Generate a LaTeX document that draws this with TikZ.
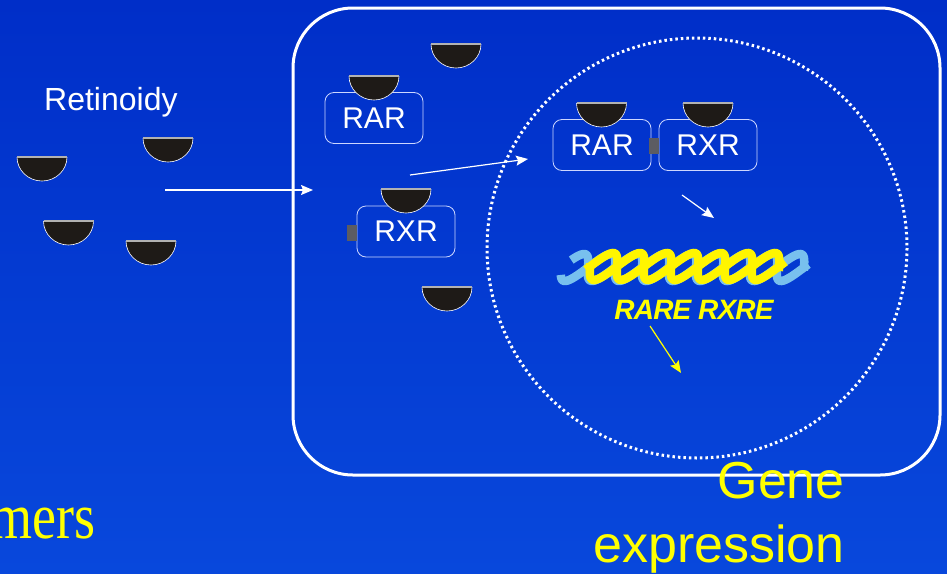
\documentclass[tikz,border=0pt]{standalone}
\usepackage{fontspec}
\setmainfont{Liberation Sans}
\newfontfamily\timesfont{Liberation Serif}
\usetikzlibrary{arrows.meta}
\definecolor{bgtop}{RGB}{0,46,200}
\definecolor{bgbot}{RGB}{8,72,220}
\definecolor{ligandfill}{RGB}{30,26,23}
\definecolor{tabgrey}{RGB}{92,92,98}
\definecolor{helixblue}{RGB}{120,192,238}
\definecolor{helixyellow}{RGB}{255,245,0}
\definecolor{labelyellow}{RGB}{255,255,0}
\definecolor{boxline}{RGB}{205,215,255}

\begin{document}
\begin{tikzpicture}[x=1pt,y=-1pt,
  declare function={hs(\u)=sin(20*(\u-590)/3);},
  receptor/.style={draw=boxline, line width=0.8pt, rounded corners=9pt,
    minimum width=98pt, minimum height=51pt, inner sep=0pt, text=white,
    font=\fontsize{30}{30}\selectfont},
  tabbox/.style={fill=tabgrey, minimum width=10pt, minimum height=16pt, inner sep=0pt},
  flow/.style={draw=white, line width=1.2pt, -{Stealth[length=12pt,width=10pt,inset=2pt]}},
  yflow/.style={draw=labelyellow, line width=1.2pt, -{Stealth[length=12pt,width=10pt,inset=2pt]}},
  strand/.style={line width=8.5pt},
  ligand/.pic={
    \fill[ligandfill] (-25,0) arc[start angle=180,end angle=0,x radius=25,y radius=24] -- cycle;
    \draw[white, line width=0.6pt] (-25,0) arc[start angle=180,end angle=0,x radius=25,y radius=24];
    \draw[gray!60, line width=1.4pt] (-25,0) -- (25,0);
  }
]
% background
\begin{scope}[y=1pt]
  \shade[top color=bgtop, bottom color=bgbot] (0,-573) rectangle (947,0);
\end{scope}
\useasboundingbox (0,0) rectangle (947,573);

% cell membrane and nucleus
\node[draw=white, line width=3pt, rounded corners=60pt, minimum width=647pt,
  minimum height=467pt, inner sep=0pt] (cell) at (616.5,241.5) {};
\draw[white, line width=3pt, dash pattern=on 2.5pt off 3pt] (697,248) circle[radius=210];

% receptors
\node[receptor] (rarL) at (374,118) {RAR};
\node[receptor] (rxrL) at (406,231.5) {RXR};
\node[receptor] (rarN) at (602,145) {RAR};
\node[receptor] (rxrN) at (708,145) {RXR};
\node[tabbox] (tabL) at (352,232.5) {};
\node[tabbox] (tabN) at (654,146) {};

% free ligands
\pic at (42,157) {ligand};
\pic at (168,138) {ligand};
\pic at (68.5,221) {ligand};
\pic at (151,241) {ligand};
\pic at (456,44) {ligand};
\pic at (447,287) {ligand};
% bound ligands
\pic at (374,76) {ligand};
\pic at (406,189) {ligand};
\pic at (601.5,103) {ligand};
\pic at (708,103) {ligand};

% DNA double helix
\draw[helixblue, strand] plot[domain=568:808, samples=160, smooth]
  ({\x+9.5*hs(\x)-2},{266.5-13.5*hs(\x)+1});
\draw[helixblue, strand] plot[domain=568:808, samples=160, smooth]
  ({\x-9.5*hs(\x)-2},{266.5+13.5*hs(\x)+1});
\draw[helixyellow, strand] plot[domain=588:782, samples=140, smooth]
  ({\x+9.5*hs(\x)},{266.5-13.5*hs(\x)});
\draw[helixyellow, strand] plot[domain=588:782, samples=140, smooth]
  ({\x-9.5*hs(\x)},{266.5+13.5*hs(\x)});

% labels
\node[anchor=base west, inner sep=0pt, text=white, font=\fontsize{32}{32}\selectfont]
  (ret) at (44,110) {Retinoidy};
\node[anchor=base, inner sep=0pt, text=labelyellow,
  font=\bfseries\itshape\fontsize{28}{28}\selectfont] (rare) at (694,319)
  {\addfontfeatures{LetterSpace=-3}RARE RXRE};
\node[anchor=base east, inner sep=0pt, text=labelyellow, font=\fontsize{52}{52}\selectfont]
  (gene) at (845,498) {Gene};
\node[anchor=base east, inner sep=0pt, text=labelyellow, font=\fontsize{52}{52}\selectfont]
  (expr) at (845,562) {expression};
\node[anchor=base east, inner sep=0pt, text=labelyellow]
  (mers) at (96,538) {\scalebox{1}[1.2]{\timesfont\fontsize{54}{54}\selectfont mers}};

% signalling arrows
\coordinate (a1s) at (165,190); \coordinate (a1e) at (313,190);
\coordinate (a2s) at (410,175); \coordinate (a2e) at (528,159);
\coordinate (a3s) at (682,195); \coordinate (a3e) at (714,218);
\coordinate (a4s) at (650,326); \coordinate (a4e) at (681,373);
\draw[flow] (a1s) -- (a1e);
\draw[flow] (a2s) -- (a2e);
\draw[flow] (a3s) -- (a3e);
\draw[yflow] (a4s) -- (a4e);
\end{tikzpicture}
\end{document}
